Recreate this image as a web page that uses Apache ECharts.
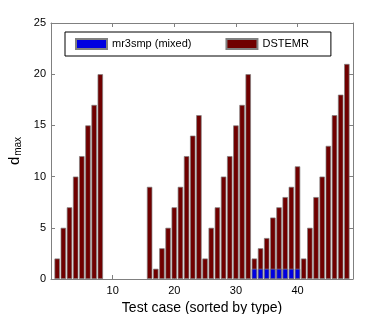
<!DOCTYPE html>
<html><head><meta charset="utf-8">
<script src="https://cdn.jsdelivr.net/npm/echarts@6/dist/echarts.min.js"></script>
<style>html,body{margin:0;padding:0;background:#fff}#c{width:390px;height:314px}</style>
</head><body><div id="c"></div>
<script>
// x positions 0..49 (axis range); test cases are 1..48
var xPositions = [];
for (var k = 0; k <= 49; k++) xPositions.push(String(k));
var cases = [];
for (var i = 1; i <= 48; i++) cases.push(i);
var dstemr = [2,5,7,10,12,15,17,20, 0,0,0,0,0,0,0, 9,1,3,5,7,9,12,14,16, 2,5,7,10,12,15,17,20, 2,3,4,6,7,8,9,11, 2,5,8,10,13,16,18,21];
var mr3smp = [0,0,0,0,0,0,0,0, 0,0,0,0,0,0,0, 0,0,0,0,0,0,0,0,0, 0,0,0,0,0,0,0,0, 1,1,1,1,1,1,1,1, 0,0,0,0,0,0,0,0];
var yTicks = [0,5,10,15,20,25];
var xTicks = ['10','20','30','40'];

var font = 'Liberation Sans, Arial, Helvetica, sans-serif';
var gray = '#808080';
function pairs(vals){ return cases.map(function(c,i){ return [String(c), vals[i] === 0 ? '-' : vals[i]]; }); }
var chart = echarts.init(document.getElementById('c'));
function tickEvery10(idx){ return idx % 10 === 0; }
function axisCommon(){
  return {
    axisLine:{show:true, onZero:false, lineStyle:{color:gray, width:1}},
    splitLine:{show:false}
  };
}
chart.setOption({
  animation:false,
  textStyle:{fontFamily:font},
  grid:{left:51, right:37, top:23, bottom:35, containLabel:false, outerBoundsMode:'none'},
  legend:{
    data:['mr3smp (mixed)','DSTEMR'],
    left:65, top:32,
    padding:[6,22,6,10],
    icon:'rect',
    itemGap:34, itemWidth:31, itemHeight:10,
    borderColor:'#000', borderWidth:1, backgroundColor:'#fff',
    textStyle:{fontSize:11, color:'#000', fontFamily:font}
  },
  xAxis:[
    Object.assign({type:'category', data:xPositions, boundaryGap:false, position:'bottom',
      axisTick:{show:true, inside:true, length:4, interval:tickEvery10, lineStyle:{color:gray}},
      axisLabel:{fontSize:11, color:'#000', margin:6, fontFamily:font, interval:0,
        formatter:function(v){ return xTicks.indexOf(v) >= 0 ? v : ''; }},
      name:'Test case (sorted by type)', nameLocation:'middle', nameGap:16,
      nameTextStyle:{fontSize:14, color:'#000', fontFamily:font}
    }, axisCommon()),
    Object.assign({type:'category', data:xPositions, boundaryGap:false, position:'top',
      axisTick:{show:true, inside:true, length:4, interval:tickEvery10, lineStyle:{color:gray}},
      axisLabel:{show:false}}, axisCommon())
  ],
  yAxis:[
    Object.assign({type:'value', min:0, max:25, interval:5, position:'left',
      axisTick:{show:true, inside:true, length:4, lineStyle:{color:gray}},
      axisLabel:{fontSize:11, color:'#000', margin:5, fontFamily:font,
        formatter:function(v){ return yTicks.indexOf(v) >= 0 ? String(v) : ''; }},
      name:'{a|d}{b|max}', nameLocation:'middle', nameRotate:90, nameGap:27,
      nameTextStyle:{color:'#000', fontFamily:font,
        rich:{a:{fontSize:15, lineHeight:16, verticalAlign:'top', color:'#000', fontFamily:font},
              b:{fontSize:10, lineHeight:10, verticalAlign:'bottom', padding:[8,0,0,1], color:'#000', fontFamily:font}}}
    }, axisCommon()),
    Object.assign({type:'value', min:0, max:25, interval:5, position:'right',
      axisTick:{show:true, inside:true, length:4, lineStyle:{color:gray}},
      axisLabel:{show:false}}, axisCommon())
  ],
  series:[
    {name:'DSTEMR', type:'bar', xAxisIndex:0, yAxisIndex:0, data:pairs(dstemr),
     barWidth:5.4, barGap:'-100%',
     itemStyle:{color:'#700000', borderColor:gray, borderWidth:0.7}},
    {name:'mr3smp (mixed)', type:'bar', xAxisIndex:0, yAxisIndex:0, data:pairs(mr3smp),
     barWidth:5.4, barGap:'-100%',
     itemStyle:{color:'#0000e0', borderColor:gray, borderWidth:0.7}}
  ]
});
</script></body></html>
